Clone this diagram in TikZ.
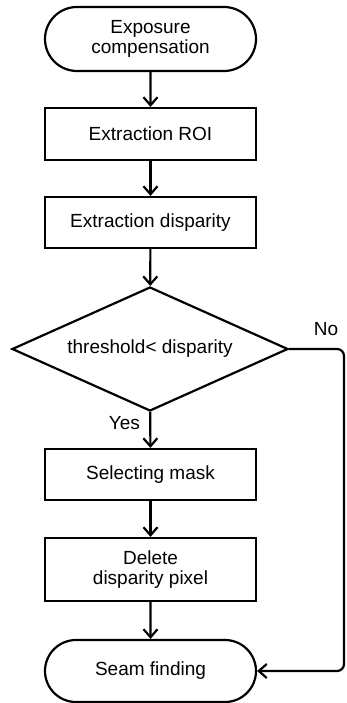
\documentclass[tikz,border=0pt]{standalone}
\usepackage{fontspec}
\setmainfont{Liberation Sans}
\usetikzlibrary{shapes.geometric,shapes.misc,arrows.meta}
\tikzset{
    flowline/.style={line width=2.2pt},
    arr/.style={flowline,-{Straight Barb[length=8pt,width=14pt,line width=2.2pt]}},
    termbox/.style={rounded rectangle,draw,flowline,minimum width=211pt,inner sep=0pt,align=center,font=\fontsize{19}{20}\selectfont},
    procbox/.style={rectangle,draw,flowline,minimum width=211pt,inner sep=0pt,align=center,font=\fontsize{19}{20}\selectfont},
    decbox/.style={diamond,draw,flowline,minimum width=276pt,minimum height=124pt,aspect=2.2,inner sep=0pt,font=\fontsize{19}{20}\selectfont},
    lbl/.style={font=\fontsize{19}{20}\selectfont}
}
\begin{document}
\begin{tikzpicture}[x=1pt,y=-1pt]
        \useasboundingbox (0,0) rectangle (347,703);
        \node[termbox,minimum height=64pt] (expo) at (150.5,39) {Exposure\\compensation};
        \node[procbox,minimum height=52pt] (roi) at (150.5,134) {Extraction ROI};
        \node[procbox,minimum height=51pt] (disp) at (150.5,222.5) {Extraction disparity};
        \node[decbox] (thr) at (150,349) {threshold< disparity};
        \node[procbox,minimum height=51pt] (mask) at (150.5,474.5) {Selecting mask};
        \node[procbox,minimum height=63pt] (del) at (150.5,569.5) {Delete\\disparity pixel};
        \node[termbox,minimum height=62pt] (seam) at (150.5,671) {Seam finding};
        \coordinate (rside) at (344,349);
        \draw[arr] (expo) -- (roi);
        \draw[arr] (roi) -- (disp);
        \draw[arr] (disp) -- (thr);
        \draw[arr] (thr) -- (mask) node[lbl,pos=0.3,left=6pt] (yes) {Yes};
        \draw[arr] (mask) -- (del);
        \draw[arr] (del) -- (seam);
        \draw[arr,rounded corners=7pt] (thr.east) -- (rside) |- (seam.east);
        \node[lbl] (no) at (326,329) {No};
    \end{tikzpicture}
\end{document}
